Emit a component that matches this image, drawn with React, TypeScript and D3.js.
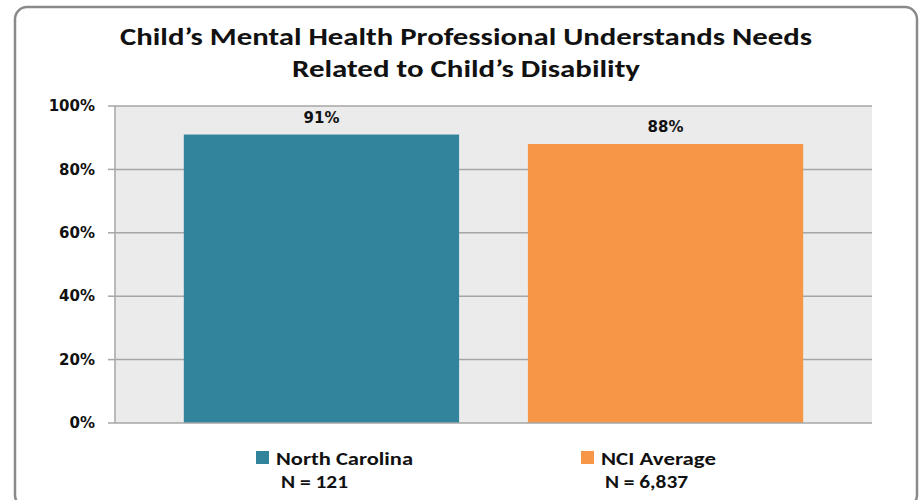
import React from "react";
import * as d3 from "d3";

const categories = ["North Carolina", "NCI Average"];
const values = [91, 88];
const nLabels = ["N = 121", "N = 6,837"];
const colors = ["#31849B", "#F79646"];
const yTicks = [0, 20, 40, 60, 80, 100];
const titleLines = ["Child\u2019s Mental Health Professional Understands Needs", "Related to Child\u2019s Disability"];

export default function App() {
  const W = 921, H = 500;
  const plot = { left: 115, right: 872, top: 106, bottom: 423 };
  const x = d3.scaleBand<string>().domain(categories).range([plot.left, plot.right]).paddingInner(0.2).paddingOuter(0.2);
  const y = d3.scaleLinear().domain([0, 100]).range([plot.bottom, plot.top]);
  const titleFont = "Carlito, Calibri, 'Open Sans', 'Liberation Sans', sans-serif";
  const axisFont = "'DejaVu Sans', Verdana, sans-serif";
  const legendX = [256, 581];
  const titleLens = [692, 348];
  const legendLens = [137, 115];
  const nLens = [67, 83];
  const nX = [281, 605];
  return (
    <svg width={W} height={H} style={{ position: "absolute", left: 0, top: 0, background: "#fff" }}>
      <rect x={15} y={7} width={902} height={500} rx={12} ry={12} fill="#fff" stroke="#8a8a8a" strokeWidth={2.5} />
      {titleLines.map((t, i) => (
        <text key={i} x={466} y={45 + i * 32} textAnchor="middle" fontFamily={titleFont} fontWeight="bold" fontSize={24} fill="#111"
          textLength={titleLens[i]} lengthAdjust="spacingAndGlyphs">{t}</text>
      ))}
      <rect x={plot.left} y={plot.top} width={plot.right - plot.left} height={plot.bottom - plot.top} fill="#ebebeb" />
      {yTicks.map((t) => (
        <g key={t}>
          {t > 0 && <line x1={plot.left} x2={plot.right} y1={y(t)} y2={y(t)} stroke="#a6a6a6" strokeWidth={1.5} />}
          <line x1={108} x2={plot.left} y1={y(t)} y2={y(t)} stroke="#a6a6a6" strokeWidth={1.5} />
          <text x={95} y={y(t)} dy="0.35em" textAnchor="end" fontFamily={axisFont} fontWeight="bold" fontSize={15} fill="#111">{t}%</text>
        </g>
      ))}
      <line x1={plot.left} x2={plot.left} y1={plot.top} y2={plot.bottom} stroke="#a6a6a6" strokeWidth={1.5} />
      {categories.map((c, i) => (
        <g key={c}>
          <rect x={x(c)} y={y(values[i])} width={x.bandwidth()} height={plot.bottom - y(values[i])} fill={colors[i]} />
          <text x={(x(c) as number) + x.bandwidth() / 2} y={y(values[i]) - 12} textAnchor="middle" fontFamily={axisFont} fontWeight="bold" fontSize={15} fill="#111">{values[i]}%</text>
        </g>
      ))}
      <line x1={plot.left} x2={plot.right} y1={plot.bottom} y2={plot.bottom} stroke="#a6a6a6" strokeWidth={1.5} />
      {categories.map((c, i) => (
        <g key={"lg" + c}>
          <rect x={legendX[i]} y={451} width={13} height={13} fill={colors[i]} />
          <text x={legendX[i] + 20} y={465} fontFamily={titleFont} fontWeight="bold" fontSize={18} fill="#111" textLength={legendLens[i]} lengthAdjust="spacingAndGlyphs">{c}</text>
          <text x={nX[i]} y={488} fontFamily={titleFont} fontWeight="bold" fontSize={18} fill="#111" textLength={nLens[i]} lengthAdjust="spacingAndGlyphs">{nLabels[i]}</text>
        </g>
      ))}
    </svg>
  );
}
